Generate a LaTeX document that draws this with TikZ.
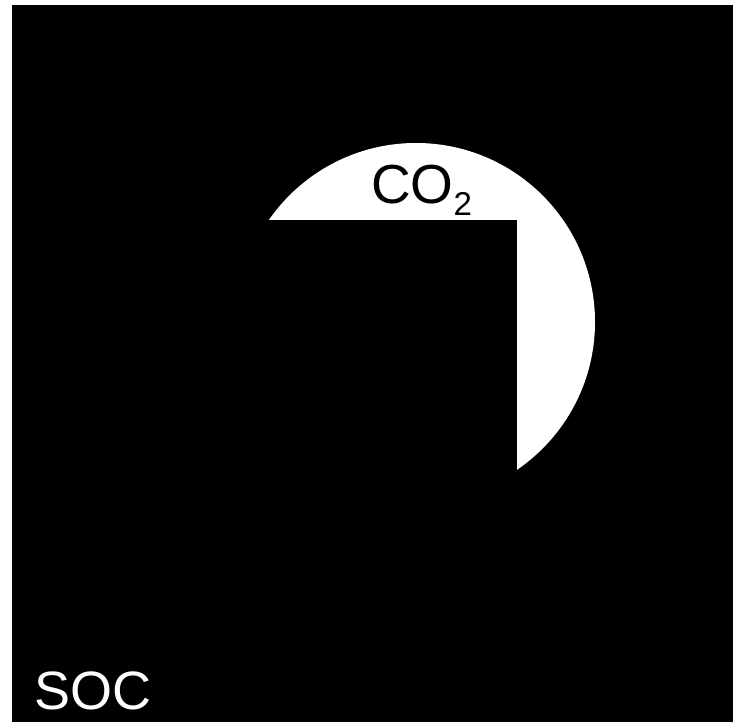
\documentclass[tikz,border=0pt]{standalone}
\usepackage{fontspec}
\setmainfont{Liberation Sans}
\begin{document}
\begin{tikzpicture}[x=1pt,y=-1pt,
  bigtext/.style={inner sep=0pt,anchor=base west,font=\fontsize{55}{58}\selectfont},
  soctext/.style={inner sep=0pt,anchor=base west,text=white,font=\fontsize{54}{57}\selectfont}]
\useasboundingbox (0,0) rectangle (740,722);
\fill[white] (0,0) rectangle (740,722);
\fill[black] (12,5) rectangle (733,722);
\fill[white] (416,322) circle[radius=179];
\fill[black] (12,220.5) rectangle (516.5,722);
\node[bigtext] (co2) at (371,204) {CO\raisebox{-12pt}{\fontsize{33}{35}\selectfont 2}};
\node[soctext] (soc) at (34,709) {SOC};
\end{tikzpicture}
\end{document}
